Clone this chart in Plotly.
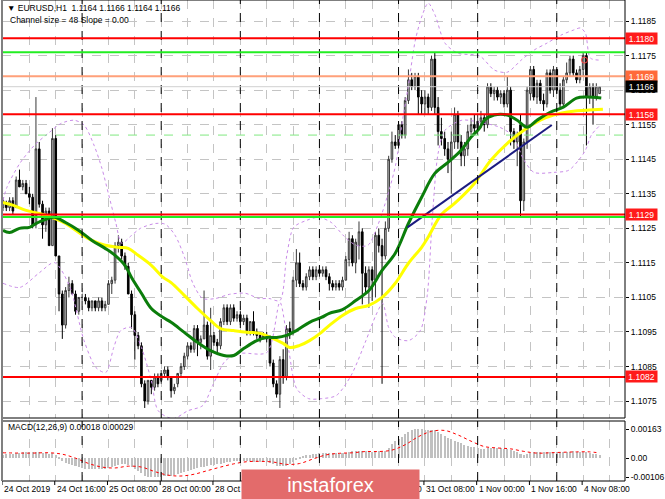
import plotly.graph_objects as go

# ---------------- data ----------------
time_labels = ["24 Oct 2019", "24 Oct 16:00", "25 Oct 08:00", "28 Oct 00:00", "28 Oct 16:00",
               "29 Oct 08:00", "30 Oct 00:00", "30 Oct 16:00", "31 Oct 08:00", "1 Nov 00:00",
               "1 Nov 16:00", "4 Nov 08:00"]
time_label_bars = [0, 16, 32, 48, 64, 80, 96, 112, 128, 144, 160, 176]
day_sep_bars = [24, 48, 72, 96, 120, 144, 168]

opens = [1.1131, 1.1132, 1.1131, 1.1133, 1.1131, 1.1139, 1.1137, 1.1138, 1.1135, 1.1134,
         1.1126, 1.1148, 1.1132, 1.1126, 1.1130, 1.1120, 1.1151, 1.1117, 1.1106, 1.1097,
         1.1107, 1.1109, 1.1106, 1.1101, 1.1105, 1.1105, 1.1104, 1.1102, 1.1104, 1.1102,
         1.1104, 1.1102, 1.1103, 1.1109, 1.1110, 1.1120, 1.1121, 1.1117, 1.1114, 1.1106,
         1.1100, 1.1094, 1.1091, 1.1080, 1.1075, 1.1081, 1.1079, 1.1082, 1.1081, 1.1083,
         1.1084, 1.1082, 1.1078, 1.1080, 1.1083, 1.1085, 1.1088, 1.1091, 1.1090, 1.1096,
         1.1092, 1.1093, 1.1097, 1.1088, 1.1094, 1.1092, 1.1091, 1.1098, 1.1102, 1.1098,
         1.1102, 1.1099, 1.1100, 1.1098, 1.1099, 1.1095, 1.1098, 1.1095, 1.1094, 1.1093,
         1.1094, 1.1093, 1.1086, 1.1080, 1.1077, 1.1087, 1.1082, 1.1096, 1.1095, 1.1110,
         1.1115, 1.1109, 1.1108, 1.1111, 1.1113, 1.1111, 1.1113, 1.1112, 1.1113, 1.1111,
         1.1109, 1.1108, 1.1109, 1.1108, 1.1110, 1.1116, 1.1122, 1.1115, 1.1120, 1.1124,
         1.1112, 1.1108, 1.1113, 1.1110, 1.1123, 1.1120, 1.1117, 1.1125, 1.1145, 1.1150,
         1.1149, 1.1155, 1.1152, 1.1162, 1.1168, 1.1166, 1.1169, 1.1163, 1.1161, 1.1163,
         1.1160, 1.1174, 1.1160, 1.1153, 1.1151, 1.1148, 1.1145, 1.1150, 1.1158, 1.1150,
         1.1146, 1.1148, 1.1153, 1.1155, 1.1154, 1.1156, 1.1157, 1.1155, 1.1166, 1.1164,
         1.1165, 1.1163, 1.1164, 1.1161, 1.1165, 1.1153, 1.1150, 1.1155, 1.1133, 1.1150,
         1.1164, 1.1171, 1.1163, 1.1167, 1.1162, 1.1161, 1.1170, 1.1165, 1.1171, 1.1165,
         1.1161, 1.1168, 1.1170, 1.1174, 1.1170, 1.1168, 1.1171, 1.1175, 1.1163, 1.1166,
         1.1163, 1.1164]
highs = [1.1134, 1.1133, 1.1134, 1.1134, 1.1140, 1.1142, 1.1139, 1.1139, 1.1137, 1.1135,
         1.1163, 1.1150, 1.1133, 1.1131, 1.1131, 1.1154, 1.1152, 1.1117, 1.1107, 1.1108,
         1.1111, 1.1110, 1.1107, 1.1105, 1.1106, 1.1106, 1.1105, 1.1104, 1.1104, 1.1105,
         1.1105, 1.1104, 1.1110, 1.1111, 1.1121, 1.1123, 1.1122, 1.1118, 1.1115, 1.1107,
         1.1101, 1.1095, 1.1092, 1.1081, 1.1081, 1.1081, 1.1083, 1.1083, 1.1084, 1.1085,
         1.1085, 1.1082, 1.1080, 1.1083, 1.1086, 1.1089, 1.1092, 1.1092, 1.1097, 1.1097,
         1.1094, 1.1107, 1.1098, 1.1102, 1.1095, 1.1093, 1.1099, 1.1103, 1.1103, 1.1103,
         1.1103, 1.1101, 1.1101, 1.1100, 1.1100, 1.1098, 1.1101, 1.1096, 1.1095, 1.1095,
         1.1095, 1.1094, 1.1087, 1.1081, 1.1088, 1.1090, 1.1097, 1.1098, 1.1111, 1.1119,
         1.1118, 1.1110, 1.1112, 1.1114, 1.1114, 1.1114, 1.1114, 1.1114, 1.1114, 1.1112,
         1.1110, 1.1110, 1.1110, 1.1111, 1.1117, 1.1124, 1.1123, 1.1122, 1.1127, 1.1125,
         1.1114, 1.1114, 1.1114, 1.1124, 1.1125, 1.1122, 1.1127, 1.1146, 1.1153, 1.1152,
         1.1156, 1.1156, 1.1163, 1.1171, 1.1170, 1.1170, 1.1170, 1.1165, 1.1165, 1.1164,
         1.1175, 1.1176, 1.1163, 1.1157, 1.1153, 1.1150, 1.1153, 1.1160, 1.1159, 1.1152,
         1.1150, 1.1155, 1.1157, 1.1158, 1.1158, 1.1159, 1.1158, 1.1167, 1.1167, 1.1166,
         1.1166, 1.1165, 1.1165, 1.1169, 1.1166, 1.1154, 1.1153, 1.1158, 1.1151, 1.1166,
         1.1172, 1.1172, 1.1168, 1.1168, 1.1164, 1.1171, 1.1171, 1.1172, 1.1171, 1.1167,
         1.1169, 1.1173, 1.1175, 1.1175, 1.1171, 1.1172, 1.1176, 1.1176, 1.1167, 1.1167,
         1.1167, 1.1166]
lows = [1.1130, 1.1130, 1.1130, 1.1129, 1.1131, 1.1137, 1.1136, 1.1135, 1.1132, 1.1125,
        1.1125, 1.1131, 1.1122, 1.1124, 1.1120, 1.1120, 1.1117, 1.1101, 1.1093, 1.1096,
        1.1105, 1.1106, 1.1100, 1.1100, 1.1104, 1.1103, 1.1101, 1.1101, 1.1101, 1.1101,
        1.1101, 1.1101, 1.1103, 1.1106, 1.1109, 1.1118, 1.1116, 1.1113, 1.1106, 1.1096,
        1.1087, 1.1090, 1.1079, 1.1073, 1.1074, 1.1077, 1.1078, 1.1079, 1.1080, 1.1082,
        1.1081, 1.1076, 1.1077, 1.1079, 1.1082, 1.1084, 1.1087, 1.1089, 1.1089, 1.1088,
        1.1090, 1.1093, 1.1087, 1.1084, 1.1091, 1.1089, 1.1090, 1.1097, 1.1097, 1.1097,
        1.1098, 1.1098, 1.1097, 1.1097, 1.1094, 1.1094, 1.1094, 1.1093, 1.1092, 1.1093,
        1.1092, 1.1085, 1.1079, 1.1076, 1.1073, 1.1080, 1.1081, 1.1093, 1.1094, 1.1108,
        1.1108, 1.1107, 1.1107, 1.1110, 1.1110, 1.1110, 1.1111, 1.1111, 1.1110, 1.1107,
        1.1107, 1.1107, 1.1107, 1.1107, 1.1110, 1.1114, 1.1114, 1.1112, 1.1116, 1.1103,
        1.1106, 1.1102, 1.1104, 1.1105, 1.1118, 1.1080, 1.1116, 1.1124, 1.1144, 1.1148,
        1.1148, 1.1151, 1.1151, 1.1161, 1.1165, 1.1165, 1.1158, 1.1158, 1.1158, 1.1158,
        1.1159, 1.1158, 1.1149, 1.1149, 1.1146, 1.1141, 1.1135, 1.1148, 1.1148, 1.1143,
        1.1143, 1.1146, 1.1152, 1.1152, 1.1152, 1.1154, 1.1153, 1.1154, 1.1163, 1.1162,
        1.1162, 1.1161, 1.1160, 1.1160, 1.1149, 1.1148, 1.1143, 1.1128, 1.1130, 1.1148,
        1.1162, 1.1162, 1.1161, 1.1161, 1.1159, 1.1160, 1.1164, 1.1163, 1.1164, 1.1160,
        1.1160, 1.1167, 1.1169, 1.1169, 1.1167, 1.1167, 1.1169, 1.1149, 1.1161, 1.1155,
        1.1162, 1.1164]
closes = [1.1133, 1.1131, 1.1133, 1.1130, 1.1139, 1.1137, 1.1138, 1.1135, 1.1134, 1.1126,
          1.1148, 1.1132, 1.1126, 1.1130, 1.1120, 1.1151, 1.1117, 1.1106, 1.1097, 1.1107,
          1.1109, 1.1106, 1.1101, 1.1105, 1.1105, 1.1104, 1.1102, 1.1104, 1.1102, 1.1104,
          1.1102, 1.1103, 1.1109, 1.1110, 1.1120, 1.1121, 1.1117, 1.1114, 1.1106, 1.1100,
          1.1094, 1.1091, 1.1080, 1.1075, 1.1081, 1.1079, 1.1082, 1.1080, 1.1083, 1.1084,
          1.1082, 1.1078, 1.1079, 1.1083, 1.1085, 1.1088, 1.1091, 1.1090, 1.1096, 1.1092,
          1.1093, 1.1097, 1.1088, 1.1094, 1.1092, 1.1091, 1.1098, 1.1102, 1.1098, 1.1102,
          1.1099, 1.1100, 1.1098, 1.1099, 1.1095, 1.1098, 1.1095, 1.1094, 1.1093, 1.1094,
          1.1093, 1.1086, 1.1080, 1.1077, 1.1087, 1.1082, 1.1096, 1.1095, 1.1110, 1.1115,
          1.1109, 1.1108, 1.1111, 1.1113, 1.1111, 1.1113, 1.1112, 1.1113, 1.1111, 1.1109,
          1.1108, 1.1109, 1.1108, 1.1110, 1.1116, 1.1122, 1.1115, 1.1121, 1.1124, 1.1112,
          1.1108, 1.1113, 1.1110, 1.1123, 1.1120, 1.1117, 1.1125, 1.1145, 1.1150, 1.1149,
          1.1155, 1.1152, 1.1162, 1.1168, 1.1166, 1.1169, 1.1163, 1.1161, 1.1163, 1.1160,
          1.1174, 1.1160, 1.1153, 1.1151, 1.1148, 1.1145, 1.1150, 1.1158, 1.1150, 1.1146,
          1.1148, 1.1153, 1.1155, 1.1154, 1.1156, 1.1157, 1.1155, 1.1166, 1.1164, 1.1165,
          1.1163, 1.1164, 1.1161, 1.1165, 1.1153, 1.1150, 1.1152, 1.1133, 1.1150, 1.1165,
          1.1171, 1.1163, 1.1167, 1.1162, 1.1161, 1.1170, 1.1165, 1.1171, 1.1165, 1.1161,
          1.1168, 1.1170, 1.1174, 1.1170, 1.1168, 1.1171, 1.1175, 1.1163, 1.1166, 1.1163,
          1.1166, 1.1166]
bar_index = list(range(len(closes)))

# moving averages (sampled along the drawn lines)
ma_green_bar = [0, 2, 5, 8, 10, 13, 15.6, 19, 23, 27, 31, 34, 37, 39, 42, 45, 48.6, 51, 55, 59,
                63, 67, 70, 73, 77, 80, 83, 86, 89, 93, 96.6, 99, 103, 107, 111, 115, 119, 123,
                127, 131, 135, 139, 142, 144.6, 146, 149, 153, 156, 159, 162, 166, 170, 174,
                177, 181.5]
ma_green_val = [1.11244, 1.11238, 1.11250, 1.11253, 1.11264, 1.11276, 1.11282, 1.11267, 1.11244,
                1.11215, 1.11192, 1.11172, 1.11143, 1.11108, 1.11062, 1.11018, 1.10992, 1.10978,
                1.10949, 1.10920, 1.10896, 1.10882, 1.10882, 1.10902, 1.10925, 1.10934, 1.10934,
                1.10940, 1.10954, 1.10978, 1.10992, 1.11004, 1.11015, 1.11041, 1.11070, 1.11128,
                1.11178, 1.11264, 1.11340, 1.11409, 1.11441, 1.11476, 1.11514, 1.11540, 1.11563,
                1.11578, 1.11578, 1.11563, 1.11543, 1.11563, 1.11586, 1.11601, 1.11627, 1.11630,
                1.11627]
ma_yellow_bar = [0, 3, 7, 11, 15.6, 19, 23, 27, 31, 35, 38, 41, 45, 48.6, 51, 55, 59, 63, 66,
                 70, 74, 78, 82, 85, 87, 90, 93, 96.6, 99, 103, 107, 111, 115, 119, 123, 127,
                 129, 133, 137, 143, 148, 153, 158, 163, 167, 173, 177, 182]
ma_yellow_val = [1.11325, 1.11317, 1.11302, 1.11293, 1.11279, 1.11264, 1.11238, 1.11215, 1.11201,
                 1.11195, 1.11192, 1.11172, 1.11143, 1.11108, 1.11093, 1.11056, 1.11018, 1.10983,
                 1.10960, 1.10954, 1.10949, 1.10946, 1.10931, 1.10917, 1.10905, 1.10911, 1.10925,
                 1.10949, 1.10969, 1.10998, 1.11018, 1.11027, 1.11050, 1.11091, 1.11149, 1.11195,
                 1.11225, 1.11290, 1.11322, 1.11380, 1.11447, 1.11496, 1.11534, 1.11563, 1.11578,
                 1.11589, 1.11592, 1.11595]

# dotted channel bands (upper and lower envelope)
band_up_bar = [0, 1.2, 5.1, 9.6, 14.1, 17.7, 21.6, 24.6, 27.6, 30, 32.1, 34.2, 36, 38.7, 41.7,
               46.2, 49.2, 52.2, 55.2, 57.6, 60.6, 64.5, 68.7, 73.5, 77.7, 80.7, 84, 86.1, 88.2,
               92.1, 95.7, 99.6, 103.5, 107.1, 110.7, 113.7, 116.7, 119.1, 121.2, 123, 125.1,
               127.2, 129, 131.1, 134.1, 138, 144.6, 149.1, 153, 157.2, 161.1, 165, 169.2,
               173.1, 175.2, 176.7, 178.2, 181.2]
band_up_val = [1.11331, 1.11369, 1.11438, 1.11491, 1.11528, 1.11554, 1.11563, 1.11549, 1.11491,
               1.11424, 1.11346, 1.11267, 1.11207, 1.11227, 1.11250, 1.11264, 1.11262, 1.11230,
               1.11163, 1.11091, 1.11047, 1.11047, 1.11059, 1.11062, 1.11047, 1.11047, 1.11041,
               1.11172, 1.11253, 1.11273, 1.11282, 1.11267, 1.11227, 1.11201, 1.11201, 1.11259,
               1.11346, 1.11433, 1.11563, 1.11664, 1.11795, 1.11867, 1.11902, 1.11867, 1.11786,
               1.11757, 1.11749, 1.11708, 1.11702, 1.11737, 1.11766, 1.11786, 1.11809, 1.11824,
               1.11830, 1.11815, 1.11743, 1.11737]
band_dn_bar = [0, 5.1, 11.1, 15.6, 20.1, 24.6, 28.2, 31.2, 33.6, 35.7, 39, 42, 45, 47.1, 51.6,
               56.1, 60.6, 63.6, 67.5, 72, 80.1, 84, 86.7, 89.1, 92.7, 96.6, 101.1, 105.6,
               110.1, 113.1, 115.2, 117, 119.1, 123, 126.6, 128.7, 130.2, 132, 134.1, 139.2,
               144.6, 150.6, 154.5, 158.1, 161.1, 167.1, 171.6, 174.6, 176.7, 178.5, 181.2]
band_dn_val = [1.11091, 1.11079, 1.11122, 1.11151, 1.11085, 1.10925, 1.10847, 1.10833, 1.10905,
               1.10954, 1.10963, 1.10905, 1.10809, 1.10722, 1.10699, 1.10722, 1.10737, 1.10795,
               1.10867, 1.10888, 1.10891, 1.11036, 1.10896, 1.10786, 1.10757, 1.10757, 1.10766,
               1.10824, 1.10925, 1.10998, 1.11033, 1.10963, 1.10934, 1.10925, 1.10954, 1.11056,
               1.11273, 1.11467, 1.11534, 1.11563, 1.11557, 1.11543, 1.11519, 1.11447, 1.11412,
               1.11412, 1.11418, 1.11447, 1.11476, 1.11520, 1.11549]

trend_bar = [122.7, 166.5]
trend_val = [1.11253, 1.11549]

alert_bar = [176.4]
alert_val = [1.11737]

# horizontal levels
red_levels = [1.1180, 1.1158, 1.1129, 1.1082]
green_levels = [1.1176, 1.11283]
salmon_level = 1.1169
bid_level = 1.1166
dashed_green_level = 1.1152

price_ticks = [1.1075, 1.1085, 1.1095, 1.1105, 1.1115, 1.1125, 1.1135, 1.1145, 1.1155,
               1.1165, 1.1175, 1.1185]

# MACD histogram (units of 0.00001) and signal line samples
macd_hist_e5 = [20, 22, 24, 25, 28, 30, 32, 33, 34, 32, 36, 34, 30, 28, 24, 30,
                20, 5, -15, -25, -32,
                -38, -45, -50, -55, -58, -60, -62, -63, -63, -62,
                -60, -56, -50, -44, -38, -35, -34,
                -40, -50, -60, -72, -85, -98, -105, -108, -108, -106,
                -104, -102, -100, -98, -95, -90, -85, -80, -74, -68,
                -62, -56, -52, -48, -44, -40, -36, -33, -30, -26,
                -22, -20, -18, -17, -17, -17, -18, -18, -19, -20, -21, -22, -23,
                -28, -35, -42, -46, -45, -42, -35, -22, -8, 5,
                12, 16, 20, 24, 26, 28, 29, 30, 29, 28,
                27, 26, 27, 30, 35, 38, 40, 42, 40, 38,
                36, 35, 38, 38, 36, 40, 58, 78, 95, 110,
                120, 133, 146, 156, 162, 165, 163, 160, 157, 160,
                155, 145, 135, 125, 115, 105, 98, 92, 84, 76,
                70, 65, 60, 56, 53, 52, 56, 58, 58, 57,
                55, 53, 51, 48, 42, 36, 24, 18, 22, 28,
                32, 34, 34, 33, 34, 34, 34, 33, 32, 33,
                35, 37, 38, 37, 36, 37, 32, 28, 24, 21, 18]
macd_signal_bar = [0, 8, 14, 18, 22, 26, 30, 34, 38, 42, 46, 50, 54, 58, 62, 66, 70, 74, 78, 82,
                   86, 90, 94, 98, 102, 106, 110, 114, 118, 122, 126, 130, 134, 138, 142, 146,
                   150, 154, 158, 162, 166, 170, 174, 178, 181]
macd_signal_e5 = [30, 28, 30, 22, 0, -30, -50, -55, -45, -50, -75, -95, -100, -90, -70, -50, -32,
                  -20, -18, -22, -35, -30, -5, 18, 27, 30, 37, 37, 45, 75, 120, 150, 155, 130,
                  95, 65, 57, 52, 38, 28, 30, 33, 35, 35, 29]
macd_ticks = [0.00163, 0.0, -0.00106]
macd_ticktext = ["0.00163", "0.00", "-0.00106"]

# ---------------- figure ----------------
W, H = 665, 499
ML, MR, MT, MB = 2, 33, 0, 18
PH = H - MT - MB


def py(px):
    return 1 - px / PH


FONT = "Liberation Sans, Arial, sans-serif"
FS = 8.5
macd_hist = [v * 1e-5 for v in macd_hist_e5]
macd_signal = [v * 1e-5 for v in macd_signal_e5]

fig = go.Figure()
fig.add_trace(go.Candlestick(
    x=bar_index, open=opens, high=highs, low=lows, close=closes,
    increasing=dict(line=dict(color="#383838", width=1), fillcolor="#c4c4c4"),
    decreasing=dict(line=dict(color="#000000", width=1), fillcolor="#000000"),
    whiskerwidth=0, showlegend=False, hoverinfo="skip", xaxis="x", yaxis="y"))

band_line = dict(color="#c98be8", width=1, dash="dot", shape="spline", smoothing=0.8)
fig.add_trace(go.Scatter(x=band_up_bar, y=band_up_val, mode="lines", line=band_line,
                         showlegend=False, hoverinfo="skip", xaxis="x", yaxis="y"))
fig.add_trace(go.Scatter(x=band_dn_bar, y=band_dn_val, mode="lines", line=band_line,
                         showlegend=False, hoverinfo="skip", xaxis="x", yaxis="y"))
fig.add_trace(go.Scatter(x=ma_yellow_bar, y=ma_yellow_val, mode="lines", line=dict(color="#ffff00", width=3, shape="spline"),
                         showlegend=False, hoverinfo="skip", xaxis="x", yaxis="y"))
fig.add_trace(go.Scatter(x=ma_green_bar, y=ma_green_val, mode="lines", line=dict(color="#0b7d0b", width=3, shape="spline"),
                         showlegend=False, hoverinfo="skip", xaxis="x", yaxis="y"))
fig.add_trace(go.Scatter(x=trend_bar, y=trend_val, mode="lines", line=dict(color="#1c1c80", width=2),
                         showlegend=False, hoverinfo="skip", xaxis="x", yaxis="y"))
fig.add_trace(go.Scatter(x=alert_bar, y=alert_val, mode="markers",
                         marker=dict(symbol="circle-open", color="#ff4040", size=6, line=dict(width=1)),
                         showlegend=False, hoverinfo="skip", xaxis="x", yaxis="y"))

fig.add_trace(go.Bar(x=bar_index, y=macd_hist, marker=dict(color="#c0c0c0", line=dict(width=0)), width=0.62,
                     showlegend=False, hoverinfo="skip", xaxis="x2", yaxis="y2"))
fig.add_trace(go.Scatter(x=macd_signal_bar, y=macd_signal, mode="lines", line=dict(color="#ff0000", width=1, dash="dot", shape="spline"),
                         showlegend=False, hoverinfo="skip", xaxis="x2", yaxis="y2"))

grid_bars = list(range(0, 189, 8))
axis_font = dict(family=FONT, size=FS, color="#000000")
fig.update_layout(
    width=W, height=H, margin=dict(l=ML, r=MR, t=MT, b=MB, pad=0),
    paper_bgcolor="#ffffff", plot_bgcolor="#ffffff",
    font=axis_font, showlegend=False, bargap=0,
    xaxis=dict(domain=[0, 1], range=[-0.3, 188.7], anchor="y", tickvals=grid_bars, showticklabels=False,
               showgrid=True, gridcolor="#c4c4c4", griddash="dash", gridwidth=1, zeroline=False,
               rangeslider=dict(visible=False), ticks=""),
    yaxis=dict(domain=[py(418), 1], range=[1.10701, 1.11911], anchor="x", side="right",
               tickvals=price_ticks, ticktext=["%.4f" % v for v in price_ticks],
               showgrid=True, gridcolor="#c4c4c4", griddash="dash", gridwidth=1, zeroline=False,
               ticks="outside", ticklen=3, tickcolor="#000000", tickfont=axis_font),
    xaxis2=dict(domain=[0, 1], range=[-0.3, 188.7], anchor="y2", tickvals=grid_bars, showticklabels=False,
                showgrid=True, gridcolor="#c4c4c4", griddash="dash", gridwidth=1, zeroline=False, ticks=""),
    yaxis2=dict(domain=[0, py(421)], range=[-0.00128, 0.00208], anchor="x2", side="right",
                tickvals=macd_ticks, ticktext=macd_ticktext, showgrid=False, zeroline=False,
                ticks="outside", ticklen=3, tickcolor="#000000", tickfont=axis_font),
)

shapes = []
# day separators
for b in day_sep_bars:
    for xr, yr in (("x", "y domain"), ("x2", "y2 domain")):
        shapes.append(dict(type="line", xref=xr, yref=yr, x0=b, x1=b, y0=0, y1=1,
                           line=dict(color="#000000", width=1, dash="dash")))
# horizontal levels
for lv in red_levels:
    shapes.append(dict(type="line", xref="paper", yref="y", x0=0, x1=1, y0=lv, y1=lv, line=dict(color="#ff0000", width=2)))
for lv in green_levels:
    shapes.append(dict(type="line", xref="paper", yref="y", x0=0, x1=1, y0=lv, y1=lv, line=dict(color="#22ee22", width=2)))
shapes.append(dict(type="line", xref="paper", yref="y", x0=0, x1=1, y0=salmon_level, y1=salmon_level, line=dict(color="#ffa07a", width=2)))
shapes.append(dict(type="line", xref="paper", yref="y", x0=0, x1=1, y0=bid_level, y1=bid_level, line=dict(color="#d0d0d0", width=1)))
shapes.append(dict(type="line", xref="paper", yref="y", x0=0, x1=1, y0=dashed_green_level, y1=dashed_green_level,
                   line=dict(color="#80e880", width=1, dash="dash")))
# panel frames
shapes.append(dict(type="rect", xref="paper", yref="paper", x0=0, x1=1, y0=py(418), y1=1, line=dict(color="#000000", width=1)))
shapes.append(dict(type="rect", xref="paper", yref="paper", x0=0, x1=1, y0=0, y1=py(421), line=dict(color="#000000", width=1)))
shapes.append(dict(type="line", xref="paper", yref="paper", x0=0, x1=0, y0=0, y1=1, line=dict(color="#808080", width=2)))
# small time ticks
for b in time_label_bars:
    shapes.append(dict(type="line", xref="x", yref="paper", x0=b - 0.3, x1=b - 0.3, y0=0, y1=py(485),
                       line=dict(color="#000000", width=1)))
fig.update_layout(shapes=shapes)

ann = []
ann.append(dict(xref="paper", yref="paper", x=3 / 630, y=py(8), xanchor="left", yanchor="middle", showarrow=False,
                text="\u25BC EURUSD,H1  1.1164 1.1166 1.1164 1.1166", font=dict(family=FONT, size=FS, color="#000000")))
ann.append(dict(xref="paper", yref="paper", x=6 / 630, y=py(20), xanchor="left", yanchor="middle", showarrow=False,
                text="Channel size = 48 Slope = 0.00", font=dict(family=FONT, size=FS, color="#000000")))
ann.append(dict(xref="paper", yref="paper", x=4 / 630, y=py(427), xanchor="left", yanchor="middle", showarrow=False,
                text="MACD(12,26,9) 0.00018 0.00029", font=dict(family=FONT, size=FS, color="#000000")))
for b, t in zip(time_label_bars, time_labels):
    ann.append(dict(xref="x", yref="paper", x=b, y=py(489), xanchor="left", yanchor="middle", xshift=-1, showarrow=False,
                    text=t, font=dict(family=FONT, size=FS, color="#000000")))
box_specs = [(lv, "#ff1a1a", "#ffffff") for lv in red_levels] + [(salmon_level, "#ff6a3a", "#ffffff"), (bid_level, "#000000", "#ffffff")]
for lv, bg, fg in box_specs:
    ann.append(dict(xref="paper", yref="y", x=1, y=lv, xanchor="left", yanchor="middle", showarrow=False,
                    text="%.4f" % lv, bgcolor=bg, width=31, height=11, borderpad=0,
                    font=dict(family=FONT, size=FS, color=fg)))
# logo
ann.append(dict(xref="paper", yref="paper", x=(244 - ML) / 630, y=py(469), xanchor="left", yanchor="top", showarrow=False,
                text="instaforex", bgcolor="#e36b6b", width=177, height=30, borderpad=0,
                font=dict(family=FONT, size=20, color="#ffffff")))
fig.update_layout(annotations=ann)

fig.write_html("out.html", config={"displayModeBar": False},
               post_script="document.body.style.margin='0px';document.body.style.overflow='hidden';")
